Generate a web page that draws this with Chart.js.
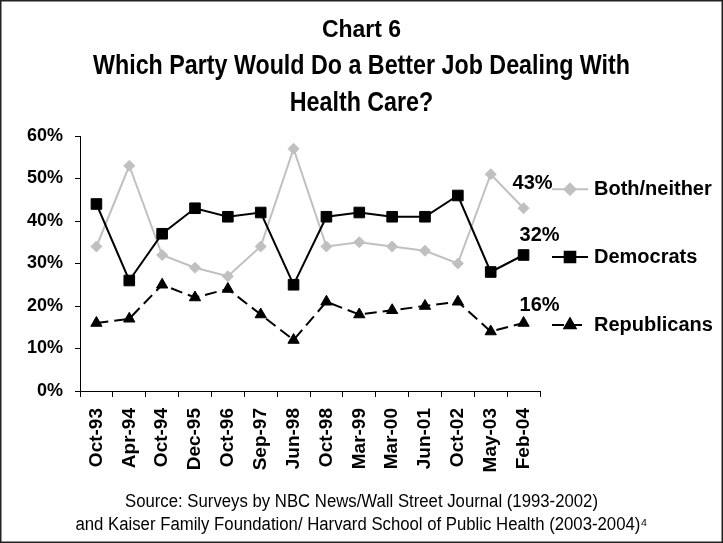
<!DOCTYPE html>
<html><head><meta charset="utf-8">
<script src="https://cdn.jsdelivr.net/npm/chart.js@4.4.0/dist/chart.umd.min.js"></script>
<style>html,body{margin:0;padding:0;background:#fff}#wrap{width:723px;height:543px;position:relative}</style>
</head><body><div id="wrap"><canvas id="c" width="723" height="543"></canvas></div>
<script>
const categories = ['Oct-93','Apr-94','Oct-94','Dec-95','Oct-96','Sep-97','Jun-98','Oct-98','Mar-99','Mar-00','Jun-01','Oct-02','May-03','Feb-04'];
const bothNeither = [34,53,32,29,27,34,57,34,35,34,33,30,51,43];
const democrats  = [44,26,37,43,41,42,25,41,42,41,41,46,28,32];
const republicans = [16,17,25,22,24,18,12,21,18,19,20,21,14,16];
const yTicks = [0,10,20,30,40,50,60];
const seriesNames = ['Both/neither','Democrats','Republicans'];
const chartLabel = 'Chart 6';
const titleLines = ['Which Party Would Do a Better Job Dealing With','Health Care?'];
const sourceLines = ['Source: Surveys by NBC News/Wall Street Journal (1993-2002)','and Kaiser Family Foundation/ Harvard School of Public Health (2003-2004)\u2074'];

const FONT = '"Liberation Sans", Arial, sans-serif';
const GRAY = '#c0c0c0';

const decor = {
  id: 'decor',
  afterDraw(chart) {
    const ctx = chart.ctx;
    const W = chart.width;
    const cx = W / 2;
    ctx.save();
    // border
    ctx.strokeStyle = '#222';
    ctx.lineWidth = 1.5;
    ctx.strokeRect(0.75, 0.75, W - 1.5, chart.height - 1.5);
    ctx.fillStyle = '#000';
    ctx.textAlign = 'center';
    ctx.textBaseline = 'alphabetic';
    ctx.font = 'bold 23px ' + FONT;
    ctx.fillText(chartLabel, cx, 37);
    // main title (narrow)
    ctx.font = 'bold 28px ' + FONT;
    const sx = 537 / ctx.measureText(titleLines[0]).width;
    [74, 111].forEach((y, i) => {
      ctx.save();
      ctx.translate(cx, y);
      ctx.scale(sx, 1);
      ctx.fillText(titleLines[i], 0, 0);
      ctx.restore();
    });
    // source
    ctx.font = '18px ' + FONT;
    const ss = 473 / ctx.measureText(sourceLines[0]).width;
    [507, 530].forEach((y, i) => {
      ctx.save();
      ctx.translate(cx, y);
      ctx.scale(ss, 1);
      ctx.fillText(sourceLines[i], 0, 0);
      ctx.restore();
    });

    // end labels and legend
    const xs = chart.scales.x, ys = chart.scales.y;
    const last = categories.length - 1;
    const lx = xs.getPixelForValue(last);
    const sets = chart.data.datasets;
    const labelOff = [[9, -25], [16, -20], [16, -18]];
    const legOff = [-19, 2, 2];
    ctx.font = 'bold 20px ' + FONT;
    sets.forEach((ds, i) => {
      const v = ds.data[last];
      const py = ys.getPixelForValue(v);
      ctx.textAlign = 'center';
      ctx.textBaseline = 'middle';
      ctx.fillStyle = '#000';
      ctx.fillText(v + '%', lx + labelOff[i][0], py + labelOff[i][1]);
      const ly = py + legOff[i];
      ctx.save();
      ctx.strokeStyle = ds.borderColor;
      ctx.lineWidth = ds.borderWidth;
      ctx.setLineDash(ds.borderDash || []);
      ctx.beginPath();
      ctx.moveTo(552, ly); ctx.lineTo(588, ly);
      ctx.stroke();
      ctx.setLineDash([]);
      ctx.fillStyle = ds.backgroundColor;
      Chart.helpers.drawPoint(ctx, {pointStyle: ds.pointStyle, radius: ds.pointRadius, borderWidth: 1, rotation: 0}, 570, ly);
      ctx.restore();
      ctx.textAlign = 'left';
      ctx.fillStyle = '#000';
      ctx.fillText(seriesNames[i], 594, ly);
    });
    ctx.restore();
  }
};

new Chart(document.getElementById('c'), {
  type: 'line',
  data: {
    labels: categories,
    datasets: [
      {label: seriesNames[0], data: bothNeither, order: 3, borderColor: GRAY, backgroundColor: GRAY, borderWidth: 2,
       pointStyle: 'rectRot', pointRadius: 5.5, pointBorderWidth: 1, pointBorderColor: GRAY, tension: 0},
      {label: seriesNames[1], data: democrats, order: 1, borderColor: '#000', backgroundColor: '#000', borderWidth: 2,
       pointStyle: 'rect', pointRadius: 7.5, pointBorderWidth: 1, pointBorderColor: '#000', tension: 0},
      {label: seriesNames[2], data: republicans, order: 2, borderColor: '#000', backgroundColor: '#000', borderWidth: 2,
       borderDash: [12, 6], pointStyle: 'triangle', pointRadius: 6.5, pointBorderWidth: 1, pointBorderColor: '#000', tension: 0}
    ]
  },
  options: {
    responsive: false, animation: false, devicePixelRatio: 1,
    layout: {padding: {top: 136, right: 183, bottom: 0, left: 0}},
    plugins: {legend: {display: false}, tooltip: {enabled: false}, title: {display: false}},
    scales: {
      x: {
        offset: true,
        grid: {offset: true, drawOnChartArea: false, drawTicks: true, tickLength: 6, color: '#000', lineWidth: 1},
        border: {display: true, color: '#000', width: 1},
        ticks: {autoSkip: false, minRotation: 90, maxRotation: 90, padding: 11, color: '#000',
                font: {family: FONT, size: 19, weight: 'bold'}},
        afterFit(s) { s.height = 152; }
      },
      y: {
        min: 0, max: 60,
        afterBuildTicks(s) { s.ticks = yTicks.map(v => ({value: v})); },
        grid: {drawOnChartArea: false, drawTicks: true, tickLength: 5, color: '#000', lineWidth: 1},
        border: {display: true, color: '#000', width: 1},
        ticks: {padding: 12, color: '#000', callback: v => v + '%', font: {family: FONT, size: 18, weight: 'bold'}},
        afterFit(s) { s.width = 80; }
      }
    }
  },
  plugins: [decor]
});
</script></body></html>
